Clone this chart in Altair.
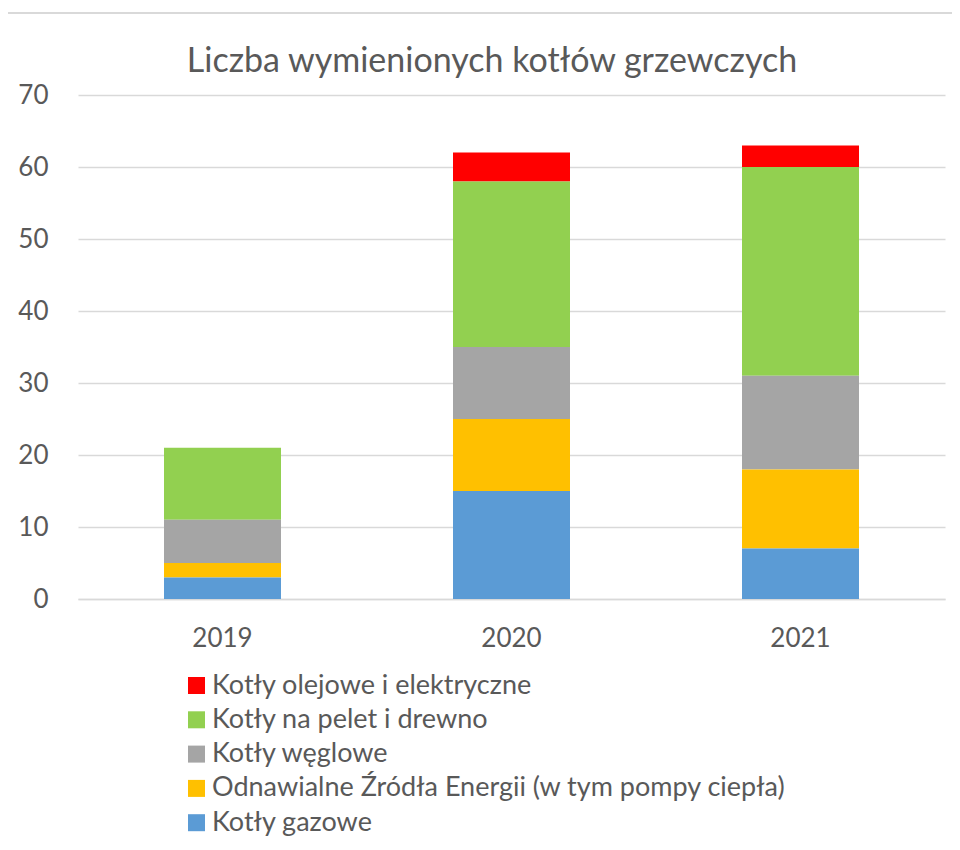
import altair as alt
import pandas as pd

years = ["2019", "2020", "2021"]
series = [
    "Kotły olejowe i elektryczne",
    "Kotły na pelet i drewno",
    "Kotły węglowe",
    "Odnawialne Źródła Energii (w tym pompy ciepła)",
    "Kotły gazowe",
]
colors = ["#FF0000", "#92D050", "#A5A5A5", "#FFC000", "#5B9BD5"]
values = {
    "Kotły gazowe": [3, 15, 7],
    "Odnawialne Źródła Energii (w tym pompy ciepła)": [2, 10, 11],
    "Kotły węglowe": [6, 10, 13],
    "Kotły na pelet i drewno": [10, 23, 29],
    "Kotły olejowe i elektryczne": [0, 4, 3],
}
title_text = ["Liczba wymienionych kotłów grzewczych"]

rows = []
for s in series:
    for i, y in enumerate(years):
        rows.append({"rok": y, "typ": s, "liczba": values[s][i],
                     "kolejnosc": len(series) - series.index(s)})
df = pd.DataFrame(rows)

FONT = "Lato"
TXT = "#595959"

bars = alt.Chart(df).mark_bar(size=117).encode(
    x=alt.X("rok:N", title=None, sort=years,
            scale=alt.Scale(paddingInner=0.6, paddingOuter=0.3),
            axis=alt.Axis(labelAngle=0, ticks=False, domainColor="#D9D9D9",
                          domainWidth=1.5, labelFontSize=26, labelColor=TXT,
                          labelFont=FONT, labelPadding=26, grid=False)),
    y=alt.Y("liczba:Q", title=None, stack="zero",
            scale=alt.Scale(domain=[0, 70], nice=False),
            axis=alt.Axis(values=[0, 10, 20, 30, 40, 50, 60, 70], ticks=False,
                          domain=False, labelFontSize=26, labelColor=TXT,
                          labelFont=FONT, labelPadding=30, gridColor="#D9D9D9",
                          gridWidth=1.5)),
    color=alt.Color("typ:N", title=None,
                    scale=alt.Scale(domain=series, range=colors),
                    legend=alt.Legend(orient="none", legendX=105, legendY=577,
                                      symbolType="square", symbolSize=289,
                                      symbolStrokeWidth=0, labelFontSize=27,
                                      labelColor=TXT, labelFont=FONT,
                                      labelLimit=800, rowPadding=6.3,
                                      symbolOffset=0, labelOffset=2)),
    order=alt.Order("kolejnosc:Q", sort="ascending"),
)

border = alt.Chart(df).mark_rect(fill=None, stroke="#D9D9D9", strokeWidth=2).encode(
    x=alt.value(-71), x2=alt.value(900), y=alt.value(-82), y2=alt.value(800)
)

title = alt.Chart(pd.DataFrame({"t": title_text})).mark_text(
    font=FONT, fontSize=34, color=TXT, align="center", baseline="middle"
).encode(text="t:N", x=alt.value(414), y=alt.value(-33))

chart = alt.layer(border, bars, title).properties(
    width=867, height=504,
    autosize=alt.AutoSizeParams(type="none"),
    padding={"left": 70, "top": 87, "right": 7, "bottom": 243},
).configure_view(stroke=None)

chart.save("out.html", embed_options={"renderer": "svg", "actions": False})
